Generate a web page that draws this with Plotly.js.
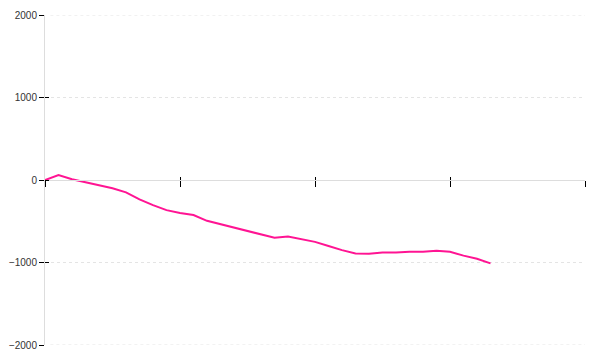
<!DOCTYPE html>
<html>
<head>
<meta charset="utf-8">
<script src="https://cdn.plot.ly/plotly-3.0.1.min.js"></script>
<style>html,body{margin:0;padding:0;background:#fff;}#chart{width:600px;height:360px;}</style>
</head>
<body>
<div id="chart"></div>
<script>
const xValues = [0,1,2,3,4,5,6,7,8,9,10,11,12,13,14,15,16,17,18,19,20,21,22,23,24,25,26,27,28,29,30,31,32,33];
const yValues = [0,60,10,-25,-60,-100,-150,-235,-305,-365,-400,-425,-495,-535,-575,-615,-655,-700,-685,-715,-750,-800,-850,-890,-895,-880,-880,-870,-870,-857,-870,-917,-955,-1010];
const yTicks = [-2000,-1000,0,1000,2000];
const yTickLabels = ['\u22122000','\u22121000','0','1000','2000'];
const xTicks = [0,10,20,30,40];
const yRange = [-2000, 2000];

const font = {family: 'Liberation Sans, Arial, sans-serif', size: 10, color: '#333'};

const trace = {
  x: xValues, y: yValues, type: 'scatter', mode: 'lines',
  line: {color: '#ff1493', width: 2}, hoverinfo: 'none', showlegend: false, cliponaxis: false
};
const dummy = {x: [0], y: [0], xaxis: 'x2', yaxis: 'y2', mode: 'markers', marker: {opacity: 0}, showlegend: false, hoverinfo: 'none'};

// edge gridlines (Plotly hides grid lines on the plot boundary)
const edgeGrid = [yRange[0], yRange[1]].map(v => ({
  type: 'line', xref: 'paper', yref: 'y', x0: 0.01, x1: 1, y0: v, y1: v,
  line: {color: '#e4e4e4', width: 1, dash: 'dot'}, layer: 'below'
}));

const layout = {
  width: 600, height: 360,
  margin: {l: 45, r: 15, t: 15, b: 15, pad: 0},
  paper_bgcolor: '#fff', plot_bgcolor: '#fff',
  font: font,
  showlegend: false,
  shapes: edgeGrid,
  xaxis: {
    range: [0, 40], tickvals: xTicks, showticklabels: false,
    ticks: 'outside', ticklen: 6, tickwidth: 1, tickcolor: '#000',
    showgrid: false, zeroline: false,
    showline: true, linecolor: '#ddd', linewidth: 1,
    anchor: 'free', position: 0.5, fixedrange: true
  },
  xaxis2: {
    range: [0, 40], tickvals: xTicks, showticklabels: false,
    ticks: 'inside', ticklen: 3, tickwidth: 1, tickcolor: '#000',
    showgrid: false, zeroline: false, showline: false,
    overlaying: 'x', anchor: 'free', position: 0.5, fixedrange: true
  },
  yaxis: {
    range: yRange, tickvals: yTicks, ticktext: yTickLabels,
    ticks: 'outside', ticklen: 5, tickwidth: 1, tickcolor: '#000',
    showgrid: true, gridcolor: '#e4e4e4', griddash: 'dot', gridwidth: 1,
    zeroline: false, showline: true, linecolor: '#ddd', linewidth: 1,
    tickfont: font, fixedrange: true
  },
  yaxis2: {
    range: yRange, tickvals: yTicks, showticklabels: false,
    ticks: 'inside', ticklen: 4, tickwidth: 1, tickcolor: '#000',
    showgrid: false, zeroline: false, showline: false,
    overlaying: 'y', side: 'left', fixedrange: true
  }
};

Plotly.newPlot('chart', [trace, dummy], layout, {staticPlot: true, displayModeBar: false});
</script>
</body>
</html>
